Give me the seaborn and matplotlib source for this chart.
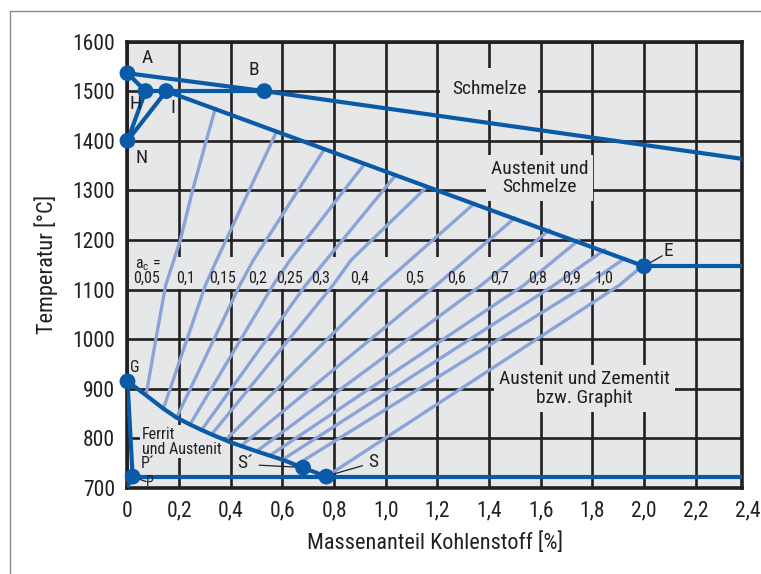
import numpy as np
import pandas as pd
import matplotlib
matplotlib.use("Agg")
import matplotlib.pyplot as plt
import matplotlib.transforms as mtransforms
from matplotlib import font_manager
from matplotlib.lines import Line2D
from matplotlib.patches import Rectangle
import seaborn as sns

# ---------------- data: carbon content [%] and temperature [°C] ----------------
point_names = ["A", "H", "I", "B", "N", "G", "P", "S´", "S", "E"]
point_c = [0.0, 0.07, 0.15, 0.53, 0.0, 0.0, 0.02, 0.68, 0.77, 2.0]
point_t = [1536, 1500, 1500, 1500, 1400, 915, 723, 741, 723, 1147]

liquidus_c = [0.0, 0.53, 2.4]
liquidus_t = [1536, 1500, 1362]
solidus_c = [0.15, 2.0]
solidus_t = [1500, 1147]
gs_c = [0.0, 0.072, 0.139, 0.19, 0.242, 0.287, 0.326, 0.40, 0.50, 0.60, 0.68, 0.77]
gs_t = [915, 887, 860, 842, 828, 817, 808, 792, 774, 757, 741, 723]

# lines of equal carbon activity a_c inside the austenite field
ac_values = [0.05, 0.1, 0.15, 0.2, 0.25, 0.3, 0.4, 0.5, 0.6, 0.7, 0.8, 0.9, 1.0]
ac_labels = ["0,05", "0,1", "0,15", "0,2", "0,25", "0,3", "0,4", "0,5", "0,6",
             "0,7", "0,8", "0,9", "1,0"]
ac_c = [
    [0.072, 0.11, 0.148, 0.205, 0.252, 0.305, 0.34],
    [0.139, 0.302, 0.345, 0.577],
    [0.19, 0.435, 0.487, 0.76],
    [0.242, 0.564, 0.629, 0.919],
    [0.287, 0.69, 1.039],
    [0.326, 0.796, 0.865, 1.157],
    [0.38, 0.985, 1.344],
    [0.44, 1.196, 1.499],
    [0.50, 1.37, 1.634],
    [0.55, 1.535, 1.748],
    [0.60, 1.652, 1.847],
    [0.655, 1.776, 1.925],
    [0.77, 1.905, 1.983],
]
ac_t = [
    [887, 1000, 1109, 1200, 1300, 1400, 1465],
    [860, 1109, 1159, 1418],
    [842, 1109, 1159, 1381],
    [828, 1109, 1159, 1354],
    [817, 1109, 1331],
    [808, 1109, 1159, 1306],
    [797, 1109, 1274],
    [785, 1109, 1244],
    [774, 1109, 1220],
    [765, 1109, 1200],
    [757, 1109, 1180],
    [747, 1109, 1163],
    [723, 1109, 1143],
]

x_ticks = [0.0, 0.2, 0.4, 0.6, 0.8, 1.0, 1.2, 1.4, 1.6, 1.8, 2.0, 2.2, 2.4]
x_tick_labels = ["0", "0,2", "0,4", "0,6", "0,8", "1,0", "1,2", "1,4", "1,6",
                 "1,8", "2,0", "2,2", "2,4"]
y_ticks = [700, 800, 900, 1000, 1100, 1200, 1300, 1400, 1500, 1600]

# ---------------- styling ----------------
DARK = "#0a5aa8"
LIGHT = "#8ca3d8"
INK = "#231f20"
FIELD = "#e6e7e9"

sns.set_style("white")
installed = {f.name for f in font_manager.fontManager.ttflist}
narrow = None
for cand in ["Liberation Sans Narrow", "Roboto Condensed", "Open Sans Condensed",
             "Noto Sans Condensed", "DejaVu Sans Condensed"]:
    if cand in installed:
        narrow = cand
        break
if narrow is None:
    family = "Roboto" if "Roboto" in installed else "Liberation Sans"
    k = 0.88
else:
    family = narrow
    k = 1.0
plt.rcParams["font.family"] = [family, "DejaVu Sans"]
plt.rcParams["mathtext.fontset"] = "custom"
plt.rcParams["mathtext.rm"] = family
plt.rcParams["mathtext.it"] = family
plt.rcParams["text.color"] = INK

FS_TICK = 15.5 * k
FS_AXIS = 16 * k
FS_FIELD = 14 * k
FS_PT = 14 * k
FS_SMALL = 11.5 * k

fig = plt.figure(figsize=(7.61, 5.74), dpi=100)
ax = fig.add_axes([0.1675, 0.1498, 0.8071, 0.7779])
ax.set_facecolor(FIELD)

# grid drawn beneath everything
ax.set_axisbelow(True)
ax.grid(True, color=INK, lw=1.9)

# phase boundaries
segments = {
    "liquidus": (liquidus_c, liquidus_t),
    "AH": ([point_c[0], point_c[1]], [point_t[0], point_t[1]]),
    "HN": ([point_c[1], point_c[4]], [point_t[1], point_t[4]]),
    "NI": ([point_c[4], point_c[2]], [point_t[4], point_t[2]]),
    "HB": ([point_c[1], point_c[3]], [point_t[1], point_t[3]]),
    "IE": (solidus_c, solidus_t),
    "ECF": ([point_c[9], 2.4], [point_t[9], point_t[9]]),
    "GS": (gs_c, gs_t),
    "GP": ([point_c[5], point_c[6]], [point_t[5], point_t[6]]),
    "PQ": ([point_c[6], 0.0], [point_t[6], 703]),
    "PSK": ([point_c[6], 2.4], [point_t[6], point_t[6]]),
}
bound_df = pd.concat(
    [pd.DataFrame({"c": c, "t": t, "seg": name}) for name, (c, t) in segments.items()],
    ignore_index=True)

ac_df = pd.concat(
    [pd.DataFrame({"c": c, "t": t, "ac": a}) for a, c, t in zip(ac_values, ac_c, ac_t)],
    ignore_index=True)

# label band behind the activity values
ax.add_patch(Rectangle((0.004, 1101), 1.97, 64, facecolor=FIELD, edgecolor="none", zorder=1))

sns.lineplot(data=ac_df, x="c", y="t", units="ac", estimator=None, sort=False,
             color=LIGHT, lw=2.4, ax=ax, legend=False, zorder=2)
sns.lineplot(data=bound_df, x="c", y="t", units="seg", estimator=None, sort=False,
             color=DARK, lw=3.0, ax=ax, legend=False, zorder=3)
sns.scatterplot(x=point_c, y=point_t, s=130, color=DARK, edgecolor="none",
                ax=ax, zorder=5, clip_on=False)

ax.set_xlim(0, 2.378)
ax.set_ylim(700, 1600)
ax.set_xticks(x_ticks[:-1])
ax.set_xticklabels(x_tick_labels[:-1])
ax.set_yticks(y_ticks)
ax.tick_params(length=0, labelsize=FS_TICK, colors=INK, pad=9)
# last tick label sits just beyond the right frame
off = mtransforms.offset_copy(ax.get_xaxis_transform(), fig=fig, x=0, y=-9, units="points")
ax.text(x_ticks[-1], 0, x_tick_labels[-1], transform=off, ha="center", va="top",
        fontsize=FS_TICK, color=INK, clip_on=False)

ax.set_xlabel("Massenanteil Kohlenstoff [%]", fontsize=FS_AXIS, color=INK, labelpad=8)
ax.set_ylabel("Temperatur [°C]", fontsize=FS_AXIS, color=INK, labelpad=10)

for sp in ax.spines.values():
    sp.set_visible(True)
    sp.set_color(INK)
    sp.set_linewidth(2.6)

# point letters
ax.text(0.075, 1567, "A", fontsize=FS_PT, ha="center", va="center")
ax.text(0.49, 1542, "B", fontsize=FS_PT, ha="center", va="center")
ax.text(0.032, 1474, "H", fontsize=FS_PT, ha="center", va="center")
ax.text(0.175, 1466, "I", fontsize=FS_PT, ha="center", va="center")
ax.text(0.055, 1365, "N", fontsize=FS_PT, ha="center", va="center")
ax.text(0.028, 942, "G", fontsize=FS_SMALL, ha="center", va="center")
ax.text(2.095, 1177, "E", fontsize=FS_PT, ha="center", va="center")
ax.plot([2.01, 2.07], [1150, 1168], color=INK, lw=0.9, zorder=4)
ax.text(0.95, 752, "S", fontsize=FS_PT, ha="center", va="center")
ax.plot([0.79, 0.91], [727, 745], color=INK, lw=0.9, zorder=4)
ax.text(0.455, 750, "S´", fontsize=FS_PT, ha="center", va="center")
ax.plot([0.51, 0.66], [746, 742], color=INK, lw=0.9, zorder=4)
ax.text(0.052, 749, "P´", fontsize=FS_SMALL, ha="left", va="center")
ax.text(0.088, 713, "P", fontsize=FS_SMALL - 1.5, ha="center", va="center")
ax.plot([0.035, 0.072], [720, 713], color=INK, lw=0.9, zorder=4)

# field names
box = dict(boxstyle="square,pad=0.25", facecolor=FIELD, edgecolor="none")
ax.text(1.40, 1504, "Schmelze", fontsize=FS_FIELD, ha="center", va="center",
        bbox=dict(boxstyle="square,pad=0.6", facecolor=FIELD, edgecolor="none"), zorder=1.5)
ax.text(1.596, 1325, "Austenit und\nSchmelze", fontsize=FS_FIELD, ha="center", va="center",
        linespacing=1.05, bbox=box, zorder=1.5)
ax.text(1.77, 901, "Austenit und Zementit\nbzw. Graphit", fontsize=FS_FIELD, ha="center",
        va="center", linespacing=1.05, bbox=box, zorder=1.5)
ax.text(0.055, 793, "Ferrit\nund Austenit", fontsize=FS_SMALL, ha="left", va="center",
        linespacing=1.0, bbox=dict(boxstyle="square,pad=0.1", facecolor=FIELD,
                                   edgecolor="none"), zorder=1.5)

# activity labels
ax.text(0.028, 1150, r"$\mathrm{a_c}$ =", fontsize=FS_SMALL, ha="left", va="center", zorder=4)
label_c = [0.074, 0.226, 0.369, 0.505, 0.629, 0.747, 0.899, 1.112, 1.273, 1.441,
           1.588, 1.718, 1.847]
for lc, txt in zip(label_c, ac_labels):
    ax.text(lc, 1122, txt, fontsize=FS_SMALL, ha="center", va="center", zorder=4)

# thin outer frame of the figure
fig.add_artist(Line2D([0.0135, 1.0], [0.981, 0.981], transform=fig.transFigure,
                      color="#8a8a8a", lw=1.0))
fig.add_artist(Line2D([0.0135, 0.0135], [0.0, 0.981], transform=fig.transFigure,
                      color="#8a8a8a", lw=1.0))

fig.savefig("out.png", dpi=100)
